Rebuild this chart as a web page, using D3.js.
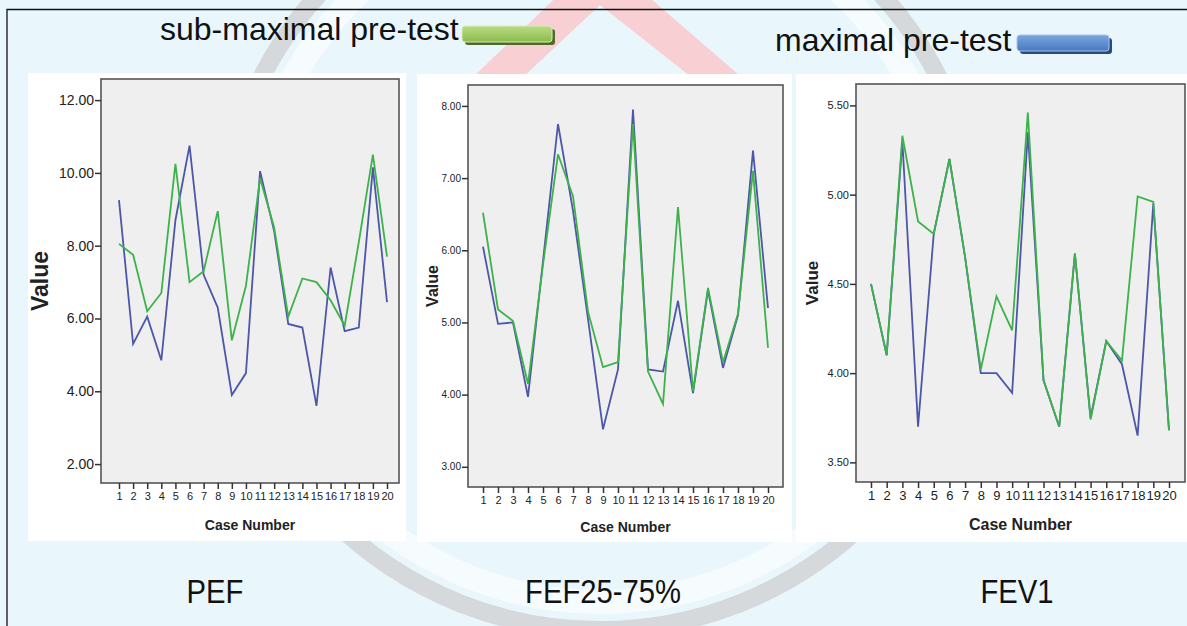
<!DOCTYPE html>
<html lang="en">
<head>
  <meta charset="utf-8" />
  <style>
    body { margin: 0; background: #fff; }
    svg { display: block; }
    .tick text { fill: #222; }
  </style>
</head>
<body>
<script src="https://d3js.org/d3.v7.min.js"></script>
<script>
// case numbers 1..20
var cases = [1,2,3,4,5,6,7,8,9,10,11,12,13,14,15,16,17,18,19,20];

// PEF
var pefMaximal    = [9.25,5.3,6.05,4.85,8.7,10.75,7.2,6.3,3.9,4.5,10.05,8.4,5.85,5.75,3.6,7.4,5.65,5.75,10.15,6.45];
var pefSubmaximal = [8.05,7.75,6.2,6.7,10.25,7.0,7.3,8.95,5.4,6.9,9.85,8.5,6.05,7.1,7.0,6.5,5.8,8.1,10.5,7.7];
var pefTicks = [2,4,6,8,10,12];

// FEF25-75%
var fefMaximal    = [6.05,4.98,5.0,3.97,5.85,7.75,6.55,5.05,3.52,4.35,7.95,4.35,4.32,5.3,4.02,5.45,4.37,5.1,7.38,5.2];
var fefSubmaximal = [6.52,5.18,5.02,4.15,5.8,7.33,6.75,5.15,4.38,4.45,7.75,4.32,3.87,6.6,4.05,5.48,4.45,5.12,7.1,4.65];
var fefTicks = [3,4,5,6,7,8];

// FEV1
var fevMaximal    = [4.5,4.1,5.3,3.7,4.78,5.2,4.65,4.0,4.0,3.89,5.35,3.96,3.7,4.67,3.75,4.18,4.05,3.65,4.95,3.68];
var fevSubmaximal = [4.5,4.1,5.33,4.85,4.78,5.2,4.65,4.02,4.43,4.24,5.46,3.96,3.7,4.67,3.74,4.18,4.07,4.99,4.96,3.68];
var fevTicks = [3.5,4.0,4.5,5.0,5.5];

var titles = ["PEF", "FEF25-75%", "FEV1"];
var legendLabels = ["sub-maximal pre-test", "maximal pre-test"];

var blue = "#4c57a8", green = "#3db24a";

var W = 1187, H = 626;
var svg = d3.select("body").append("svg")
  .attr("width", W)
  .attr("height", H);

// ---- faint logo watermark behind everything ----
svg.append("rect").attr("width", W).attr("height", H).attr("fill", "#e9f7fd");
svg.append("path")
  .attr("d", "M470,80 L600,-45 L745,80 L695,80 L600,5 L520,80 Z")
  .attr("fill", "#f8d0d4");
svg.append("circle")
  .attr("cx", 600).attr("cy", 250).attr("r", 380)
  .attr("fill", "none").attr("stroke", "#d6d9db").attr("stroke-width", 18);
svg.append("circle")
  .attr("cx", 600).attr("cy", 250).attr("r", 352)
  .attr("fill", "none").attr("stroke", "#ffffff").attr("stroke-width", 24).attr("opacity", 0.6);

// outer border (top & left)
svg.append("path")
  .attr("d", "M7,626 L7,9.5 L1187,9.5")
  .attr("fill", "none").attr("stroke", "#111").attr("stroke-width", 1.3);

// ---- panels ----
var panels = [
  { max: pefMaximal, sub: pefSubmaximal, ticks: pefTicks, title: titles[0],
    box: [28, 73, 406, 541], frame: [101, 79, 399, 483],
    yDom: [1.48, 12.58], x1: 119, x20: 387,
    yFont: 14, xFont: 11, capFont: 14, valFont: 23, valX: 48, capY: 530, tx: 215 },
  { max: fefMaximal, sub: fefSubmaximal, ticks: fefTicks, title: titles[1],
    box: [417, 74, 792, 542], frame: [468, 85, 783, 487],
    yDom: [2.72, 8.29], x1: 483, x20: 768,
    yFont: 10, xFont: 11, capFont: 14, valFont: 16, valX: 438, capY: 532, tx: 603 },
  { max: fevMaximal, sub: fevSubmaximal, ticks: fevTicks, title: titles[2],
    box: [796, 74, 1187, 542], frame: [856, 84, 1185, 482],
    yDom: [3.39, 5.62], x1: 871, x20: 1169,
    yFont: 11, xFont: 13, capFont: 16, valFont: 17, valX: 818, capY: 530, tx: 1017 }
];

panels.forEach(function(p) {
  var g = svg.append("g");
  g.append("rect")
    .attr("x", p.box[0]).attr("y", p.box[1])
    .attr("width", p.box[2] - p.box[0]).attr("height", p.box[3] - p.box[1])
    .attr("fill", "#fff");

  var x = d3.scaleLinear().domain([1, 20]).range([p.x1, p.x20]);
  var y = d3.scaleLinear().domain(p.yDom).range([p.frame[3], p.frame[1]]);

  g.append("rect")
    .attr("x", p.frame[0]).attr("y", p.frame[1])
    .attr("width", p.frame[2] - p.frame[0]).attr("height", p.frame[3] - p.frame[1])
    .attr("fill", "#efefef").attr("stroke", "#555").attr("stroke-width", 1.6);

  var yAxis = g.append("g")
    .attr("transform", "translate(" + p.frame[0] + ",0)")
    .call(d3.axisLeft(y).tickValues(p.ticks).tickFormat(d3.format(".2f")).tickSizeOuter(0).tickSize(6).tickPadding(1));
  yAxis.select(".domain").remove();
  yAxis.selectAll("line").attr("stroke", "#333").attr("stroke-width", 1.5);
  yAxis.selectAll("text")
    .attr("font-family", "Liberation Sans, Arial, sans-serif")
    .attr("font-size", p.yFont);

  var xAxis = g.append("g")
    .attr("transform", "translate(0," + p.frame[3] + ")")
    .call(d3.axisBottom(x).tickValues(cases).tickFormat(d3.format("d")).tickSizeOuter(0).tickSize(6).tickPadding(3));
  xAxis.select(".domain").remove();
  xAxis.selectAll("line").attr("stroke", "#333").attr("stroke-width", 1.5);
  xAxis.selectAll("text")
    .attr("font-family", "Liberation Sans, Arial, sans-serif")
    .attr("font-size", p.xFont);

  g.append("text")
    .attr("x", (p.frame[0] + p.frame[2]) / 2).attr("y", p.capY)
    .attr("text-anchor", "middle")
    .attr("font-family", "Liberation Sans, Arial, sans-serif")
    .attr("font-weight", "bold").attr("font-size", p.capFont).attr("fill", "#222")
    .text("Case Number");

  g.append("text")
    .attr("transform", "translate(" + p.valX + "," + ((p.frame[1] + p.frame[3]) / 2) + ") rotate(-90)")
    .attr("text-anchor", "middle")
    .attr("font-family", "Liberation Sans, Arial, sans-serif")
    .attr("font-weight", "bold").attr("font-size", p.valFont).attr("fill", "#222")
    .text("Value");

  var line = d3.line()
    .x(function(d, i) { return x(cases[i]); })
    .y(function(d) { return y(d); });

  g.append("path").datum(p.max)
    .attr("d", line).attr("fill", "none")
    .attr("stroke", blue).attr("stroke-width", 1.8);
  g.append("path").datum(p.sub)
    .attr("d", line).attr("fill", "none")
    .attr("stroke", green).attr("stroke-width", 1.8);

  // condensed-looking panel title
  svg.append("text")
    .attr("transform", "translate(" + p.tx + ",603) scale(0.86,1)")
    .attr("text-anchor", "middle")
    .attr("font-family", "Liberation Sans, Arial, sans-serif")
    .attr("font-size", 34).attr("fill", "#111")
    .text(p.title);
});

// ---- legend ----
var defs = svg.append("defs");
function grad(id, c1, c2) {
  var lg = defs.append("linearGradient").attr("id", id)
    .attr("x1", 0).attr("y1", 0).attr("x2", 0).attr("y2", 1);
  lg.append("stop").attr("offset", "0%").attr("stop-color", c1);
  lg.append("stop").attr("offset", "100%").attr("stop-color", c2);
}
grad("gGreen", "#b9dc86", "#8cbb4c");
grad("gBlue", "#7aa6e0", "#4a78c0");

var legend = [
  { label: legendLabels[0], tx: 160, ty: 40, bx: 462, by: 26, bw: 90, bh: 16, fill: "url(#gGreen)", shadow: "#4d6b2a", edge: "#d8ecb8" },
  { label: legendLabels[1], tx: 775, ty: 51, bx: 1017, by: 35, bw: 92, bh: 16, fill: "url(#gBlue)", shadow: "#2c4a7c", edge: "#a9c4ec" }
];
legend.forEach(function(l) {
  svg.append("text")
    .attr("x", l.tx).attr("y", l.ty)
    .attr("font-family", "Liberation Sans, Arial, sans-serif")
    .attr("font-size", 32).attr("fill", "#111")
    .text(l.label);
  svg.append("rect")
    .attr("x", l.bx + 3).attr("y", l.by + 3).attr("width", l.bw).attr("height", l.bh)
    .attr("rx", 3).attr("fill", l.shadow);
  svg.append("rect")
    .attr("x", l.bx).attr("y", l.by).attr("width", l.bw).attr("height", l.bh)
    .attr("rx", 3).attr("fill", l.fill).attr("stroke", l.edge).attr("stroke-width", 1);
});
</script>
</body>
</html>
